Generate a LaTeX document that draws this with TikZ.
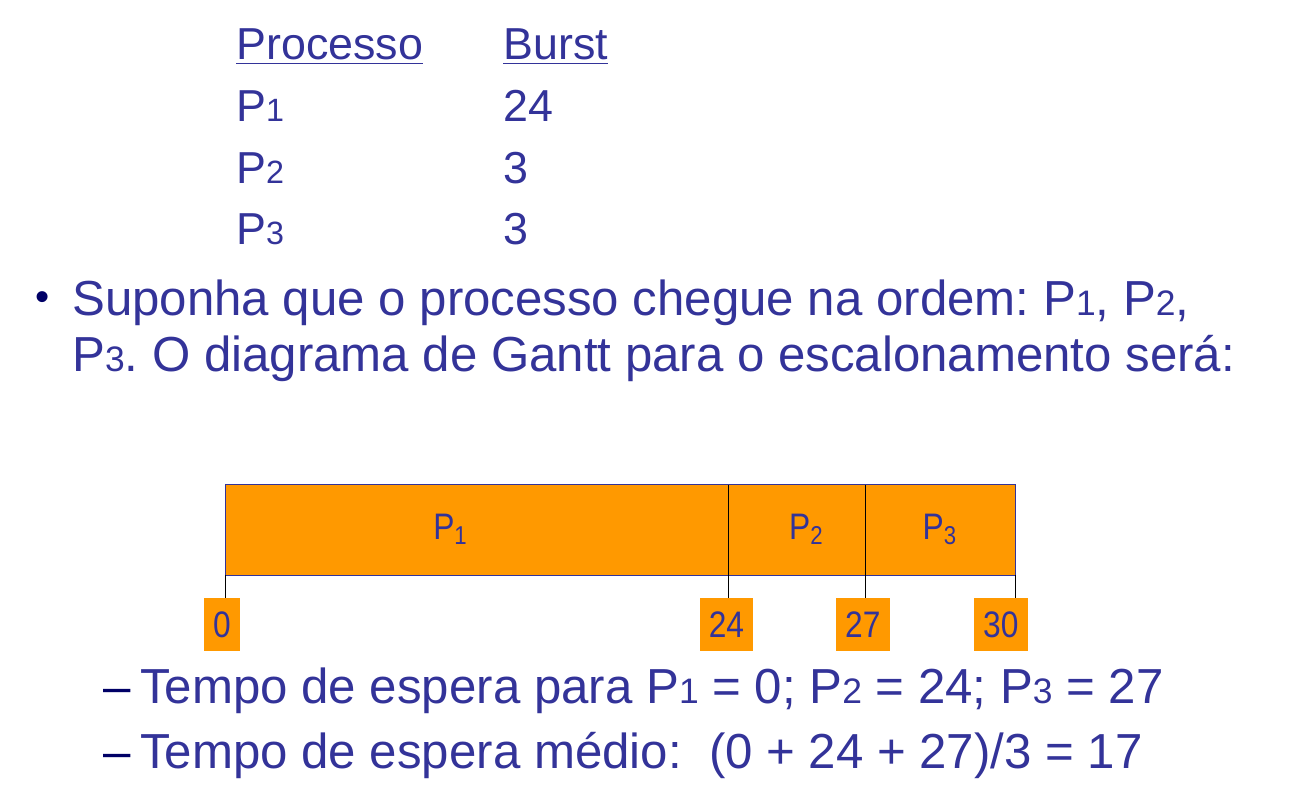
\documentclass[tikz,border=0pt]{standalone}
\usepackage{fontspec}
\setmainfont{Liberation Sans}
\newfontfamily\narrowfont[FakeStretch=0.86]{Liberation Sans}
\usepackage{xcolor}
\usetikzlibrary{positioning}

\definecolor{slideblue}{RGB}{51,51,153}
\definecolor{slidenavy}{RGB}{0,0,102}
\definecolor{slideorange}{RGB}{255,153,0}

\makeatletter
\newcommand\pnum[1]{{\fontsize{\fpeval{0.72*\f@size}}{0}\selectfont #1}}
\makeatother
\frenchspacing

\tikzset{
  txt/.style={anchor=base west, inner sep=0, text=slideblue},
  tab/.style={txt, font=\fontsize{25.5}{30}\selectfont},
  big/.style={txt, font=\fontsize{28}{34}\selectfont},
  dashsym/.style={txt, text=slidenavy, font=\fontsize{28}{34}\selectfont},
  slot/.style={draw=black, fill=slideorange, inner sep=0, outer sep=0, minimum height=1.82cm,
    text=slideblue, font=\narrowfont\fontsize{21}{24}\selectfont},
  tickbox/.style={fill=slideorange, inner ysep=0, inner xsep=0.18cm, minimum height=1.06cm,
    text=slideblue, font=\narrowfont\fontsize{21}{24}\selectfont},
}

\begin{document}
\begin{tikzpicture}[x=0.02cm, y=-0.02cm]
    \useasboundingbox (0,0) rectangle (1301,807);

    % table
    \node[tab] (hproc) at (236,60) {\underline{Processo}};
    \node[tab] (hburst) at (503,60) {\underline{Burst}};
    \node[tab] (pr1) at (236,122) {P\pnum{1}};
    \node[tab] (bu1) at (503,122) {24};
    \node[tab] (pr2) at (236,184) {P\pnum{2}};
    \node[tab] (bu2) at (503,184) {3};
    \node[tab] (pr3) at (236,245) {P\pnum{3}};
    \node[tab] (bu3) at (503,245) {3};

    % bullet text
    \node[txt, anchor=center, text=slidenavy, font=\fontsize{23}{23}\selectfont] (dot) at (43,301) {•};
    \node[big] (line1) at (72,316) {Suponha que o processo chegue na ordem: P\pnum{1}, P\pnum{2},};
    \node[big] (line2) at (72,372) {P\pnum{3}. O diagrama de Gantt para o escalonamento será:};

    % gantt
    \node[slot, anchor=north west, minimum width=10.06cm] (p1) at (225,484) {\hspace*{-1.04cm}P\textsubscript{1}};
    \node[slot, minimum width=2.74cm] (p2) [right=0pt of p1] {\hspace*{0.4cm}P\textsubscript{2}};
    \node[slot, minimum width=3.00cm] (p3) [right=0pt of p2] {P\textsubscript{3}};
    \draw[slideblue] (p1.north west) rectangle (p3.south east);

    \node[tickbox] (t0) [below=0.46cm of p1.south west, xshift=-0.06cm] {0};
    \node[tickbox] (t24) [below=0.46cm of p1.south east, xshift=-0.03cm] {24};
    \node[tickbox] (t27) [below=0.46cm of p2.south east, xshift=-0.04cm] {27};
    \node[tickbox] (t30) [below=0.46cm of p3.south east, xshift=-0.28cm] {30};

    \draw (p1.south west) -- (p1.south west |- t0.north);
    \draw (p1.south east) -- (p1.south east |- t24.north);
    \draw (p2.south east) -- (p2.south east |- t27.north);
    \draw (p3.south east) -- (p3.south east |- t30.north);

    % results
    \node[dashsym] (dash1) at (103,703) {–};
    \node[big] (wait1) at (140,703) {Tempo de espera para P\pnum{1} = 0; P\pnum{2} = 24; P\pnum{3} = 27};
    \node[dashsym] (dash2) at (103,768) {–};
    \node[big] (wait2) at (140,768) {Tempo de espera médio:\ \ (0 + 24 + 27)/3 = 17};

\end{tikzpicture}
\end{document}
